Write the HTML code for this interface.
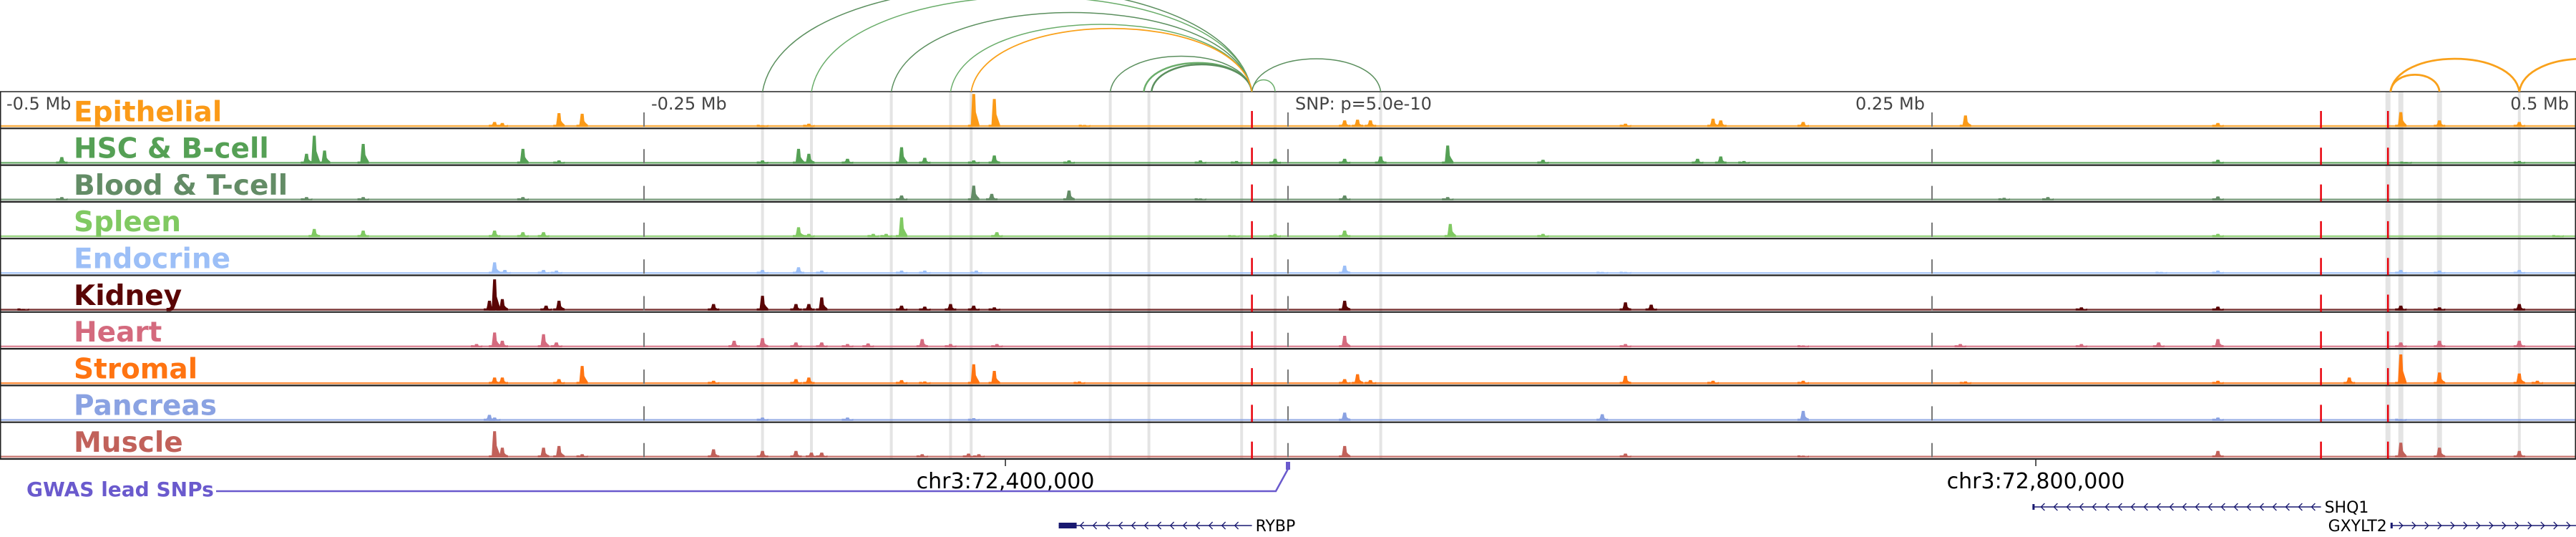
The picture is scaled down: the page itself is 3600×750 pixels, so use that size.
<!DOCTYPE html>
<html><head><meta charset="utf-8">
<style>
html,body{margin:0;padding:0;background:#fff;}
svg{display:block;}
text{font-family:"DejaVu Sans","Liberation Sans",sans-serif;}
</style></head>
<body>
<svg id="chart" width="3600" height="750" viewBox="0 0 3600 750" xmlns="http://www.w3.org/2000/svg">
<g id="highlights"></g>
<g id="tracks"></g>
<g id="vlines"></g>
<g id="arcs"></g>
<g id="labels"></g>
<g id="axis"></g>
<g id="genes"></g>
</svg>
<script>
// ---- data (positions in kb relative to lead SNP) ----
const trackNames = ["Epithelial","HSC & B-cell","Blood & T-cell","Spleen","Endocrine","Kidney","Heart","Stromal","Pancreas","Muscle"];
const trackColors = ["#fb9a17","#55a055","#638c66","#80c962","#9cbff7","#5a0505","#d46a7e","#ff7411","#8aa2e2","#c1615a"];
const epithelialPeaks = [[-308,0.15],[-305,0.12],[-283,0.42],[-274,0.40],[-204,0.05],[-186,0.1],[-122,1.0],[-114,0.85],[-79,0.06],[22,0.2],[27,0.22],[32,0.2],[131,0.1],[165,0.25],[168,0.2],[200,0.15],[263,0.35],[361,0.12],[432,0.45],[447,0.2],[478,0.15]];
const hscPeaks = [[-476,0.2],[-381,0.3],[-378,0.85],[-374,0.4],[-359,0.6],[-297,0.45],[-283,0.1],[-204,0.1],[-190,0.45],[-186,0.3],[-171,0.15],[-150,0.5],[-141,0.18],[-122,0.1],[-114,0.25],[-85,0.1],[-34,0.1],[-20,0.08],[-5,0.15],[22,0.15],[36,0.22],[62,0.55],[99,0.12],[159,0.15],[168,0.22],[177,0.08],[361,0.12],[434,0.05],[478,0.08]];
const bloodPeaks = [[-476,0.1],[-381,0.1],[-359,0.1],[-297,0.1],[-150,0.15],[-122,0.45],[-115,0.2],[-85,0.3],[-34,0.06],[22,0.15],[62,0.1],[278,0.08],[295,0.1],[361,0.12]];
const spleenPeaks = [[-378,0.25],[-359,0.2],[-308,0.2],[-297,0.15],[-289,0.15],[-190,0.3],[-186,0.1],[-161,0.1],[-156,0.1],[-150,0.6],[-113,0.15],[-21,0.06],[-5,0.1],[22,0.2],[63,0.4],[99,0.1],[361,0.1],[493,0.05]];
const endocrinePeaks = [[-308,0.35],[-304,0.12],[-289,0.12],[-284,0.1],[-204,0.12],[-190,0.2],[-181,0.1],[-150,0.1],[-141,0.1],[-121,0.1],[22,0.25],[122,0.06],[131,0.06],[339,0.06],[361,0.1],[432,0.12],[447,0.1],[478,0.12]];
const kidneyPeaks = [[-491,0.05],[-310,0.3],[-308,0.95],[-305,0.35],[-288,0.15],[-283,0.3],[-223,0.2],[-204,0.45],[-191,0.2],[-186,0.2],[-181,0.4],[-150,0.15],[-141,0.12],[-131,0.2],[-122,0.15],[-114,0.1],[22,0.3],[131,0.25],[141,0.18],[308,0.1],[361,0.12],[432,0.15],[447,0.1],[478,0.2]];
const heartPeaks = [[-315,0.1],[-308,0.45],[-305,0.2],[-289,0.4],[-284,0.15],[-215,0.2],[-204,0.28],[-191,0.15],[-181,0.15],[-171,0.1],[-163,0.12],[-142,0.25],[-131,0.1],[-113,0.1],[22,0.35],[131,0.1],[200,0.06],[261,0.1],[308,0.1],[338,0.15],[361,0.25],[432,0.15],[447,0.2],[478,0.2]];
const stromalPeaks = [[-308,0.2],[-305,0.2],[-283,0.15],[-274,0.55],[-223,0.1],[-191,0.15],[-186,0.2],[-150,0.12],[-141,0.08],[-122,0.6],[-114,0.4],[-81,0.08],[22,0.15],[27,0.3],[32,0.12],[131,0.25],[165,0.1],[200,0.1],[263,0.08],[361,0.1],[412,0.2],[432,0.9],[447,0.35],[478,0.32],[485,0.1]];
const pancreasPeaks = [[-310,0.18],[-308,0.1],[-204,0.1],[-171,0.1],[-122,0.08],[22,0.25],[122,0.2],[200,0.3],[361,0.1],[432,0.05]];
const musclePeaks = [[-308,0.8],[-305,0.3],[-289,0.3],[-283,0.35],[-274,0.1],[-223,0.25],[-204,0.2],[-191,0.2],[-185,0.15],[-181,0.15],[-142,0.1],[-124,0.12],[-120,0.1],[22,0.35],[131,0.12],[200,0.06],[361,0.2],[432,0.45],[447,0.3],[478,0.2]];
const allPeaks = [epithelialPeaks,hscPeaks,bloodPeaks,spleenPeaks,endocrinePeaks,kidneyPeaks,heartPeaks,stromalPeaks,pancreasPeaks,musclePeaks];
const highlightKb = [-204,-185,-154,-131,-123,-69,-54,-18,-5,36,427,432,447,478];
const greenArcs = [[-204,-14],[-185,-14],[-154,-14],[-131,-14],[-69,-14],[-56,-14],[-53,-14],[-14,-5],[-14,36]];
const orangeArcs = [[-123,-14],[428,447],[428,478],[478,528]];
const tickKb = [-500,-250,0,250,500];
const tickLabels = ["-0.5 Mb","-0.25 Mb","SNP: p=5.0e-10","0.25 Mb","0.5 Mb"];
const chromTickKb = [-109.7,290.3];
const chromTickLabels = ["chr3:72,400,000","chr3:72,800,000"];
const snpKb = [0];
const redLineKb = [-14,401,427];

// ---- scales ----
const NS="http://www.w3.org/2000/svg";
const PX_PER_KB=3.6, X0=1800;
function xs(kb){return X0+kb*PX_PER_KB;}
const TOP=128, TH=51.3, PEAKH=46;
function trackTop(i){return TOP+i*TH;}
function ys(i,h){return trackTop(i)+TH-2-h*PEAKH;}
function mk(tag,attrs,parent){const e=document.createElementNS(NS,tag);for(const k in attrs)e.setAttribute(k,attrs[k]);parent.appendChild(e);return e;}
const gH=document.getElementById('highlights'),gT=document.getElementById('tracks'),gV=document.getElementById('vlines'),gA=document.getElementById('arcs'),gL=document.getElementById('labels'),gX=document.getElementById('axis'),gG=document.getElementById('genes');
const BOTTOM=trackTop(10);

// highlights
highlightKb.forEach(k=>{
  const w=(k>420&&k<460)?7:4;
  const r=mk('rect',{x:xs(k)-w/2,y:TOP,width:w,height:BOTTOM-TOP,fill:'#e4e4e4'},gH);
  
  
});

// tracks
allPeaks.forEach((peaks,i)=>{
  const g=mk('g',{},gT);
  
  
  const base=trackTop(i)+TH-2;
  mk('rect',{x:0,y:base-2.5,width:3600,height:2.5,fill:trackColors[i],opacity:0.8},g);
  peaks.forEach(p=>{
    const x=xs(p[0]), y=ys(i,p[1]);
    const bar=mk('path',{d:`M${x-8},${base} L${x-8},${base-3} L${x-4},${base-3} L${x-3},${y+(base-y)*0.45} L${x-2},${y} L${x+2},${y} L${x+3},${y+(base-y)*0.55} L${x+5},${y+(base-y)*0.7} L${x+8},${base-3} L${x+8},${base} Z`,fill:trackColors[i]},g);
    
    
  });
  const ln=mk('line',{x1:0,x2:3600,y1:trackTop(i)+TH,y2:trackTop(i)+TH,stroke:'#222','stroke-width':2.2},g);
  
  
});
mk('line',{x1:0,x2:3600,y1:TOP,y2:TOP,stroke:'#222','stroke-width':1.5},gT);
mk('line',{x1:0.75,x2:0.75,y1:TOP,y2:BOTTOM,stroke:'#222','stroke-width':1.5},gT);
mk('line',{x1:3599.25,x2:3599.25,y1:TOP,y2:BOTTOM,stroke:'#222','stroke-width':1.5},gT);

// vertical dashed lines
tickKb.slice(1,4).forEach(k=>{
  const l=mk('line',{x1:xs(k),x2:xs(k),y1:TOP,y2:BOTTOM,stroke:'#777','stroke-width':2,'stroke-dasharray':'20 31.3','stroke-dashoffset':'-29'},gV);
  
  
});
redLineKb.forEach(k=>{
  const l=mk('line',{x1:xs(k),x2:xs(k),y1:TOP,y2:BOTTOM,stroke:'#e8000b','stroke-width':2.5,'stroke-dasharray':'24 27.3','stroke-dashoffset':'-27'},gV);
  
  
});

// arcs
function arc(a,b,color,w){
  const x1=xs(a),x2=xs(b),wd=Math.abs(x2-x1),h=0.2*wd+10,s=Math.sign(x2-x1);
  const p=mk('path',{d:`M${x1},${TOP} C${x1+wd*0.05*s},${TOP-h*1.33} ${x2-wd*0.05*s},${TOP-h*1.33} ${x2},${TOP}`,fill:'none',stroke:color,'stroke-width':w},gA);
  
  
}
greenArcs.forEach((a,i)=>arc(a[0],a[1],i%2?'#6aad6a':'#5b8f5e',(a[0]===-56||a[0]===-53)?2.5:1.5));
orangeArcs.forEach((a,i)=>arc(a[0],a[1],'#f9a11b',i===0?1.8:2.8));

// labels
trackNames.forEach((n,i)=>{
  const t=mk('text',{x:103,y:trackTop(i)+TH-10,fill:trackColors[i],'font-size':39,'font-weight':'bold'},gL);
  t.textContent=n;
  
  
});
// ticks
tickLabels.forEach((s,i)=>{
  const k=tickKb[i];
  let x=xs(k)+10, anchor='start';
  if(k===-500)x=9;
  if(k>0){x=xs(k)-10;anchor='end';}
  const t=mk('text',{x:x,y:153,fill:'#444','font-size':24,'text-anchor':anchor},gX);
  t.textContent=s;
  
  
});
chromTickLabels.forEach((s,i)=>{
  const x=xs(chromTickKb[i]);
  mk('line',{x1:x,x2:x,y1:BOTTOM,y2:BOTTOM+10,stroke:'#222','stroke-width':1.5},gX);
  const t=mk('text',{x:x,y:682,fill:'#000','font-size':30,'text-anchor':'middle'},gX);
  t.textContent=s;
  
  
});
// GWAS
const gw=mk('text',{x:37,y:693,fill:'#6a5acd','font-size':28,'font-weight':'bold'},gG);
gw.textContent='GWAS lead SNPs';


snpKb.forEach(k=>{
  const x=xs(k);
  mk('polyline',{points:`302,686 ${x-17},686 ${x},655`,fill:'none',stroke:'#6a5acd','stroke-width':2.5},gG);
  const m=mk('rect',{x:x-3,y:645,width:6,height:11,fill:'#6a5acd'},gG);
  
  
});
// genes
const geneNames=["RYBP","SHQ1","GXYLT2"];
const geneStart=[-89,289,428], geneEnd=[-14,401,530], geneStrand=[-1,-1,1], geneY=[734,708,734];
geneNames.forEach((n,i)=>{
  const g=mk('g',{},gG);
  
  
  const x1=xs(geneStart[i]),x2=Math.min(3600,xs(geneEnd[i])),y=geneY[i];
  mk('line',{x1:x1,x2:x2,y1:y,y2:y,stroke:'#191970','stroke-width':1.5},g);
  mk('rect',{x:x1,y:y-4,width:i===0?25:3,height:8,fill:'#191970'},g);
  for(let x=x1+(i===0?30:12);x<x2-6;x+=18){
    const d=geneStrand[i]<0?`M${x+5},${y-5} L${x},${y} L${x+5},${y+5}`:`M${x},${y-5} L${x+5},${y} L${x},${y+5}`;
    mk('path',{d:d,fill:'none',stroke:'#191970','stroke-width':1.3},g);
  }
  const t=mk('text',{x:geneStrand[i]<0?x2+5:x1-5,y:y+8,fill:'#000','font-size':22,'text-anchor':geneStrand[i]<0?'start':'end'},g);
  t.textContent=n;
});
</script>
</body></html>
